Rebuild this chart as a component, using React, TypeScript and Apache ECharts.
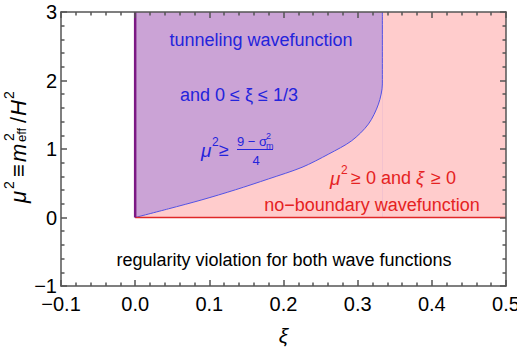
import React, { useEffect, useRef } from "react";
import * as echarts from "echarts";

// axis ranges and ticks
const xiRange = [-0.1, 0.5];
const muRange = [-1, 3];
const xiInterval = 0.1;
const muInterval = 1;

// no-boundary region (ξ ≥ 0, μ² ≥ 0)
const noBoundaryXi = [0, 0.5];
const noBoundaryMu = [0, 3];

// tunneling region: ξ from 0 to 1/3, μ² above the boundary curve
const tunnelXiMax = 0.3333;
const tunnelXi = [0, 0.045, 0.09, 0.135, 0.18, 0.225, 0.261, 0.292, 0.3145, 0.328, 0.3333, 0.3333];
const tunnelMu = [0, 0.127, 0.258, 0.404, 0.564, 0.733, 0.927, 1.121, 1.364, 1.655, 1.95, 3];

const FONT = "'Liberation Sans', Arial, Helvetica, sans-serif";
const BLUE = "#2424dc";
const RED = "#e52222";
const PINK = "#ffcccc";
const PURPLE = "#cba3d6";
const AXIS = "#555555";

const fmt = (v: number) => {
  const r = Math.round(v * 10) / 10;
  return (r < 0 ? "\u2212" : "") + Math.abs(r).toFixed(1);
};
const fmtY = (v: number) => (v < 0 ? "\u2212" : "") + Math.abs(Math.round(v)).toString();

function txt(x: number, y: number, text: string, size: number, color: string, opts: any = {}) {
  return {
    type: "text",
    x,
    y,
    z: 100,
    silent: true,
    style: {
      text,
      fill: color,
      fontSize: size,
      fontFamily: FONT,
      fontStyle: opts.italic ? "italic" : "normal",
      textAlign: opts.align || "left",
      align: opts.align || "left",
      textVerticalAlign: "middle",
      verticalAlign: "middle",
    },
  };
}

function axisParts() {
  return {
    z: 10,
    axisTick: { show: true, inside: true, length: 6, lineStyle: { color: AXIS, width: 1.5 } },
    minorTick: { show: true, splitNumber: 5, length: 3.5, lineStyle: { color: AXIS, width: 1.5 } },
    splitLine: { show: false },
    minorSplitLine: { show: false },
    axisLine: { show: true, onZero: false, lineStyle: { color: AXIS, width: 1.5 } },
  };
}

export default function App() {
  const ref = useRef<HTMLDivElement>(null);
  useEffect(() => {
    if (!ref.current) return;
    const chart = echarts.init(ref.current, null, { renderer: "svg" });
    const curve = tunnelXi.map((x, i) => [x, tunnelMu[i]]);
    const option: any = {
      animation: false,
      backgroundColor: "#ffffff",
      grid: {
        left: 61,
        right: 11,
        top: 12,
        bottom: 62,
        containLabel: false,
        outerBoundsMode: "none",
      },
      xAxis: [
        {
          type: "value",
          position: "bottom",
          min: xiRange[0],
          max: xiRange[1],
          interval: xiInterval,
          ...axisParts(),
          axisLabel: {
            show: true,
            fontSize: 20,
            color: "#000",
            fontFamily: FONT,
            margin: 8,
            showMinLabel: true,
            showMaxLabel: true,
            hideOverlap: false,
            formatter: fmt,
          },
          name: "ξ",
          nameLocation: "middle",
          nameGap: 39,
          nameTextStyle: { fontSize: 21, fontStyle: "italic", fontFamily: FONT, color: "#000" },
        },
        {
          type: "value",
          position: "top",
          min: xiRange[0],
          max: xiRange[1],
          interval: xiInterval,
          ...axisParts(),
          axisLabel: { show: false },
        },
      ],
      yAxis: [
        {
          type: "value",
          position: "left",
          min: muRange[0],
          max: muRange[1],
          interval: muInterval,
          ...axisParts(),
          axisLabel: {
            show: true,
            fontSize: 20,
            color: "#000",
            fontFamily: FONT,
            margin: 4,
            showMinLabel: true,
            showMaxLabel: true,
            hideOverlap: false,
            formatter: fmtY,
          },
        },
        {
          type: "value",
          position: "right",
          min: muRange[0],
          max: muRange[1],
          interval: muInterval,
          ...axisParts(),
          axisLabel: { show: false },
        },
      ],
      series: [
        {
          type: "custom",
          name: "no-boundary",
          data: [[noBoundaryXi[0], noBoundaryMu[0]]],
          renderItem: (params: any, api: any) => {
            const p0 = api.coord([noBoundaryXi[0], noBoundaryMu[1]]);
            const p1 = api.coord([noBoundaryXi[1], noBoundaryMu[0]]);
            return {
              type: "rect",
              shape: { x: p0[0], y: p0[1], width: p1[0] - p0[0], height: p1[1] - p0[1] },
              style: { fill: PINK },
            };
          },
          z: 1,
          silent: true,
        },
        {
          type: "custom",
          name: "tunneling",
          data: [[0, 0]],
          renderItem: (params: any, api: any) => {
            const p0 = api.coord([0, noBoundaryMu[1]]);
            const p1 = api.coord([tunnelXiMax, noBoundaryMu[0]]);
            return {
              type: "rect",
              shape: { x: p0[0], y: p0[1], width: p1[0] - p0[0], height: p1[1] - p0[1] },
              style: { fill: PURPLE },
            };
          },
          z: 1,
          silent: true,
        },
        {
          type: "line",
          name: "tunneling boundary",
          data: curve,
          smooth: 0.3,
          showSymbol: false,
          symbol: "none",
          lineStyle: { color: "#5252e4", width: 1 },
          areaStyle: { color: PINK, opacity: 1, origin: 0 },
          z: 1,
          silent: true,
        },
        {
          type: "line",
          name: "mu zero",
          data: [
            [noBoundaryXi[0], noBoundaryMu[0]],
            [noBoundaryXi[1], noBoundaryMu[0]],
          ],
          showSymbol: false,
          symbol: "none",
          lineStyle: { color: "#e02828", width: 1.5 },
          z: 1,
          silent: true,
        },
        {
          type: "line",
          name: "xi zero",
          data: [
            [noBoundaryXi[0], noBoundaryMu[0]],
            [noBoundaryXi[0], noBoundaryMu[1]],
          ],
          showSymbol: false,
          symbol: "none",
          lineStyle: { color: "#7c1884", width: 2.5 },
          z: 1,
          silent: true,
        },
      ],
      graphic: {
        elements: [
          txt(261, 40, "tunneling wavefunction", 18, BLUE, { align: "center" }),
          txt(239, 95, "and 0 ≤ ξ ≤ 1/3", 18, BLUE, { align: "center" }),
          // μ² ≥ (9 − σ_m²)/4
          txt(201, 150, "μ", 19, BLUE, { italic: true }),
          txt(212, 142, "2", 12, BLUE),
          txt(219, 150, "≥", 18, BLUE),
          txt(252, 141, "9 − σ", 13, BLUE, { align: "center" }),
          txt(266, 136, "2", 9, BLUE),
          txt(266, 146, "m", 9, BLUE),
          {
            type: "line",
            z: 100,
            silent: true,
            shape: { x1: 237, y1: 149.5, x2: 273, y2: 149.5 },
            style: { stroke: BLUE, lineWidth: 1 },
          },
          txt(256, 160, "4", 13, BLUE, { align: "center" }),
          // red texts
          txt(330, 178, "μ", 19, RED, { italic: true }),
          txt(341, 170, "2", 12, RED),
          txt(351, 178, "≥ 0 and", 18, RED),
          txt(416, 178, "ξ", 18, RED, { italic: true }),
          txt(431, 178, "≥ 0", 18, RED),
          txt(372, 205, "no\u2212boundary wavefunction", 18, RED, { align: "center" }),
          txt(284, 260, "regularity violation for both wave functions", 18, "#000", { align: "center" }),
          // y-axis title, rotated
          {
            type: "group",
            x: 18,
            y: 203,
            z: 100,
            rotation: Math.PI / 2,
            silent: true,
            children: [
              txt(0, 0, "μ", 22, "#000", { italic: true }),
              txt(14, -9, "2", 14, "#000"),
              txt(26, 0, "≡", 22, "#000"),
              txt(41, 0, "m", 22, "#000", { italic: true }),
              txt(62, -9, "2", 14, "#000"),
              txt(61, 3, "eff", 13, "#000"),
              txt(80, 0, "/", 22, "#000"),
              txt(87, 0, "H", 22, "#000", { italic: true }),
              txt(104, -9, "2", 14, "#000"),
            ],
          },
        ],
      },
    };
    chart.setOption(option);
    return () => chart.dispose();
  }, []);
  return (
    <div
      ref={ref}
      style={{ position: "fixed", left: 0, top: 0, width: 517, height: 348, background: "#fff" }}
    />
  );
}
